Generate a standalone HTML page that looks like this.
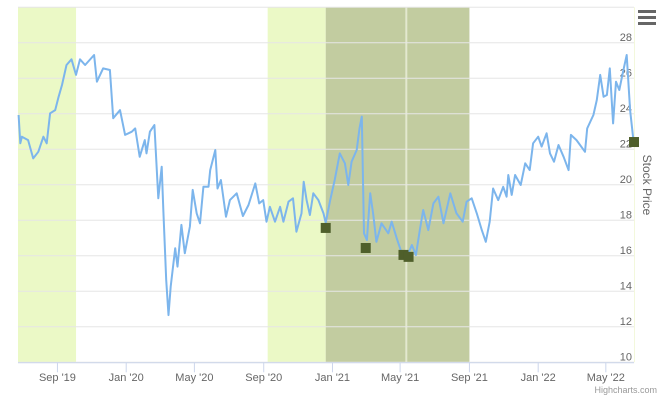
<!DOCTYPE html>
<html><head><meta charset="utf-8"><style>
body{margin:0;background:#fff;font-family:"Liberation Sans",sans-serif}
svg text{font-family:"Liberation Sans",sans-serif}
</style></head><body>
<svg id="chart" width="660" height="400" xmlns="http://www.w3.org/2000/svg">
<g id="bands"></g><g id="grid"></g><g id="xaxis"></g><g id="yaxis"></g><g id="series"></g><g id="markers"></g>
<g><rect x="638" y="10" width="18" height="3" fill="#666"/><rect x="638" y="16" width="18" height="3" fill="#666"/><rect x="638" y="22" width="18" height="3" fill="#666"/></g>
<text transform="translate(643,185) rotate(90)" text-anchor="middle" font-size="12" fill="#666">Stock Price</text>
<text x="657" y="393" text-anchor="end" font-size="9" fill="#999">Highcharts.com</text>
</svg>
<script>
const days=[1,4,7,18,27,36,45,51,57,66,72,78,86,95,103,110,119,135,140,151,163,169,181,190,202,208,216,225,228,234,242,249,255,258,263,267,271,279,283,290,296,305,310,317,323,329,338,341,350,354,360,369,376,388,399,409,421,428,435,441,447,456,465,471,480,488,494,503,507,512,518,524,533,542,546,554,562,571,580,586,592,601,606,610,614,619,625,630,636,645,657,663,672,681,690,699,706,713,719,728,737,746,755,767,778,789,796,805,814,823,830,837,843,852,861,867,870,876,882,892,900,908,914,923,929,938,944,951,959,968,977,981,991,1006,1010,1021,1027,1033,1039,1045,1050,1056,1061,1067,1073,1080,1086,1092];
const prices=[23.93,22.34,22.71,22.52,21.49,21.86,22.71,22.34,24.03,24.21,24.96,25.62,26.75,27.07,26.19,27.07,26.75,27.31,25.81,26.56,26.47,23.75,24.21,22.81,22.99,23.18,21.58,22.52,21.77,22.99,23.37,19.24,21.02,18.48,14.64,12.66,14.27,16.42,15.39,17.74,16.14,17.65,19.71,18.39,17.83,19.89,19.89,20.83,21.96,19.79,20.27,18.2,19.14,19.52,18.24,18.86,20.08,18.95,19.14,17.92,18.76,17.92,18.76,17.92,19.05,19.24,17.36,18.39,20.17,19.14,18.3,19.52,19.14,18.39,17.86,19.14,20.27,21.77,21.21,19.99,21.3,21.96,23.18,23.84,17.27,16.89,19.52,18.39,16.79,17.83,17.27,17.92,16.99,16.14,15.95,16.61,16.04,17.45,18.58,17.45,18.95,19.33,17.83,19.52,18.39,17.92,19.05,19.24,18.39,17.45,16.79,17.92,19.79,19.14,19.89,19.33,20.55,19.43,20.55,19.99,21.21,20.83,22.34,22.71,22.15,22.9,21.77,21.3,22.24,21.58,20.83,22.81,22.52,21.86,23.18,23.93,24.78,26.19,24.96,25.06,26.56,23.46,25.81,25.34,26.28,27.31,24.21,22.52];
const markerDays=[546,617,684,693,1093];
const markerPrices=[17.57,16.44,16.05,15.94,22.41];
const tickDays=[70,192,313,436,558,678,801,923,1043];
const tickLabels=["Sep '19","Jan '20","May '20","Sep '20","Jan '21","May '21","Sep '21","Jan '22","May '22"];
const yTicks=[10,12,14,16,18,20,22,24,26,28,30];
const lightBands=[[0,103],[443,546]];
const darkBands=[[546,801]];
const NS="http://www.w3.org/2000/svg";
const X0=18,X1=634,Y0=7.3,Y1=362.3,D0=0,D1=1093,P0=10,P1=30;
const x=d=>X0+(d-D0)/(D1-D0)*(X1-X0);
const y=p=>Y1-(p-P0)/(P1-P0)*(Y1-Y0);
function mk(t,a,parent){const e=document.createElementNS(NS,t);for(const k in a)e.setAttribute(k,a[k]);document.getElementById(parent).appendChild(e);return e;}
lightBands.forEach(b=>{const r=mk('rect',{x:x(b[0]),y:Y0,width:x(b[1])-x(b[0]),height:Y1-Y0,fill:'#ebf9c6'},'bands');

});
darkBands.forEach(b=>{const r=mk('rect',{x:x(b[0]),y:Y0,width:x(b[1])-x(b[0]),height:Y1-Y0,fill:'#c2cca0'},'bands');

});
const vl=mk('line',{x1:x(689),x2:x(689),y1:Y0,y2:Y1,stroke:'#e3e8cf','stroke-width':2},'bands');


const rb=mk('line',{x1:X1+0.5,x2:X1+0.5,y1:Y0,y2:Y1,stroke:'#f3f8dc','stroke-width':1},'bands');


yTicks.forEach(v=>{const g=mk('line',{x1:X0,x2:X1,y1:y(v),y2:y(v),stroke:'#e6e6e6','stroke-width':1},'grid');


if(v<30){const t=mk('text',{x:X1-2,y:y(v)-2,'text-anchor':'end','font-size':11,fill:'#666'},'yaxis');t.textContent=v;

}});
const ax=mk('line',{x1:X0,x2:X1,y1:Y1+0.5,y2:Y1+0.5,stroke:'#ccd6eb'},'xaxis');


tickDays.forEach((d,i)=>{const tk=mk('line',{x1:x(d),x2:x(d),y1:Y1,y2:Y1+10,stroke:'#ccd6eb'},'xaxis');


const t=mk('text',{x:x(d),y:381,'text-anchor':'middle','font-size':11,fill:'#666'},'xaxis');t.textContent=tickLabels[i];

});
const pts=days.map((d,i)=>x(d).toFixed(1)+','+y(prices[i]).toFixed(1)).join(' ');
const pl=mk('polyline',{points:pts,fill:'none',stroke:'#7cb5ec','stroke-width':2,'stroke-linejoin':'round'},'series');


markerDays.forEach((d,i)=>{const m=mk('rect',{x:x(d)-5,y:y(markerPrices[i])-5,width:10,height:10,fill:'#4f5f2b'},'markers');

});
</script>
</body></html>
